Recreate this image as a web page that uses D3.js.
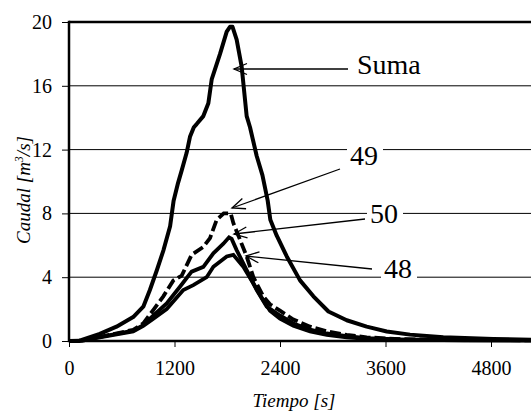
<!DOCTYPE html>
<html><head><meta charset="utf-8">
<script src="https://cdn.jsdelivr.net/npm/d3@7"></script>
</head><body style="margin:0">
<svg id="c" width="531" height="412"></svg>
<script>
const xTicks = [0, 1200, 2400, 3600, 4800];
const yTicks = [0, 4, 8, 12, 16, 20];

const sumaT = [0,120,350,540,730,845,920,1000,1075,1150,1190,1240,1282,1338,1376,1420,1452,1528,1585,1623,1718,1794,1831,1860,1907,1964,2021,2059,2135,2200,2260,2290,2363,2477,2628,2780,2951,3159,3386,3614,3879,4257,4826,5400,6000];
const sumaQ = [0,0.02,0.45,0.9,1.5,2.15,3.2,4.45,5.7,7.2,8.8,9.9,10.7,11.8,12.8,13.4,13.6,14.1,14.9,16.4,18.0,19.4,19.7,19.7,18.9,17.2,14.1,13.4,11.6,10.4,8.8,7.6,6.6,5.3,3.8,2.8,1.85,1.3,0.9,0.6,0.4,0.23,0.13,0.07,0.04];

const s49T = [0,150,350,730,845,960,1073,1187,1282,1395,1528,1604,1680,1760,1840,1869,1945,2021,2097,2210,2286,2400,2552,2742,2932,3159,3386,3765,4500,6000];
const s49Q = [0,0.02,0.25,0.7,1.1,1.95,2.8,3.8,4.1,5.4,5.9,6.45,7.6,8.0,8.0,7.4,6.35,5.3,4.0,2.8,2.3,1.9,1.35,0.9,0.6,0.38,0.23,0.12,0.06,0.03];

const s50T = [0,150,350,730,845,960,1111,1262,1395,1528,1642,1756,1820,1850,1907,2021,2135,2249,2400,2552,2742,2932,3159,3386,3765,4500,6000];
const s50Q = [0,0.02,0.25,0.65,1.0,1.6,2.35,3.4,4.35,4.65,5.5,6.1,6.5,6.4,5.7,4.45,3.2,2.15,1.6,1.1,0.72,0.47,0.3,0.18,0.1,0.05,0.03];

const s48T = [0,150,350,730,845,960,1111,1300,1414,1566,1642,1794,1869,1983,2097,2210,2286,2400,2552,2742,2932,3159,3386,3765,4500,6000];
const s48Q = [0,0.02,0.22,0.6,0.95,1.4,2.0,3.2,3.5,4.0,4.65,5.3,5.4,4.65,3.6,2.55,1.9,1.4,0.95,0.6,0.38,0.23,0.14,0.08,0.04,0.03];

const labels = ["Suma", "49", "50", "48"];

const svg = d3.select("#c");
const W = 531, H = 412;
const x = d3.scaleLinear().domain([0, 6000]).range([69, 596.5]);
const y = d3.scaleLinear().domain([0, 20]).range([341, 22]);
const FF = '"Liberation Serif"';

// gridlines
svg.append("g").selectAll("line").data(yTicks.filter(d => d > 0 && d < 20)).join("line")
  .attr("x1", x(0)).attr("x2", W).attr("y1", d => y(d)).attr("y2", d => y(d))
  .attr("stroke", "#000").attr("stroke-width", 1);

// axes
const yAxis = d3.axisLeft(y).tickValues(yTicks).tickSize(7).tickPadding(10).tickFormat(d3.format("d"));
const gy = svg.append("g").attr("transform", `translate(${x(0)},0)`).call(yAxis);
gy.select(".domain").remove();
gy.style("font-family", FF).style("font-size", "20px");
gy.selectAll("text").style("font-family", FF).style("font-size", "20px").attr("fill", "#000");

const xAxis = d3.axisBottom(x).tickValues(xTicks).tickSize(6).tickPadding(14).tickFormat(d3.format("d"));
const gx = svg.append("g").attr("transform", `translate(0,${y(0)})`).call(xAxis);
gx.select(".domain").remove();
gx.style("font-family", FF).style("font-size", "20px");
gx.selectAll("text").style("font-family", FF).style("font-size", "20px").attr("fill", "#000");

// frame lines
svg.append("line").attr("x1", x(0)).attr("x2", W).attr("y1", y(20)).attr("y2", y(20)).attr("stroke", "#000").attr("stroke-width", 2.5);
svg.append("line").attr("x1", x(0)).attr("x2", W).attr("y1", y(0)).attr("y2", y(0)).attr("stroke", "#000").attr("stroke-width", 2.5);
svg.append("line").attr("x1", x(0)).attr("x2", x(0)).attr("y1", y(20) - 1.25).attr("y2", y(0) + 1.25).attr("stroke", "#000").attr("stroke-width", 2.5);

// series
const line = d3.line().x(d => x(d[0])).y(d => y(d[1]));
const zip = (T, Q) => T.map((t, i) => [t, Q[i]]);
const plot = svg.append("g");
plot.append("path").datum(zip(s48T, s48Q)).attr("d", line).attr("fill", "none").attr("stroke", "#000").attr("stroke-width", 3.8).attr("stroke-linejoin", "miter");
plot.append("path").datum(zip(s50T, s50Q)).attr("d", line).attr("fill", "none").attr("stroke", "#000").attr("stroke-width", 3.8).attr("stroke-linejoin", "miter");
plot.append("path").datum(zip(s49T, s49Q)).attr("d", line).attr("fill", "none").attr("stroke", "#000").attr("stroke-width", 3.8).attr("stroke-dasharray", "11,4");
plot.append("path").datum(zip(sumaT, sumaQ)).attr("d", line).attr("fill", "none").attr("stroke", "#000").attr("stroke-width", 4).attr("stroke-linejoin", "round");

// arrow marker
const defs = svg.append("defs");
defs.append("marker").attr("id", "ah").attr("markerUnits", "userSpaceOnUse")
  .attr("viewBox", "-15 -8 17 16").attr("refX", 0).attr("refY", 0)
  .attr("markerWidth", 17).attr("markerHeight", 16).attr("orient", "auto")
  .append("path").attr("d", "M-13,-5.5L0,0L-13,5.5").attr("fill", "none").attr("stroke", "#000").attr("stroke-width", 1.3);

// annotations: text position, white gap width, arrow (from, to)
const annText = [[357, 74], [350, 165], [370, 223], [384, 278]];
const annGap = [0, 34, 34, 34];
const annArrow = [[348, 69, 234, 69], [340, 169, 232, 208], [365, 219, 234, 234], [372, 269, 246, 256]];

const ann = svg.append("g");
labels.forEach((lab, i) => {
  if (annGap[i] > 0) {
    ann.append("rect").attr("x", annText[i][0] - 3).attr("y", annText[i][1] - 20).attr("width", annGap[i] + 2).attr("height", 20).attr("fill", "#fff");
  }
  ann.append("text").attr("x", annText[i][0]).attr("y", annText[i][1])
    .style("font-family", FF).style("font-size", "28px").attr("fill", "#000").text(lab);
  const a = annArrow[i];
  ann.append("line").attr("x1", a[0]).attr("y1", a[1]).attr("x2", a[2]).attr("y2", a[3])
    .attr("stroke", "#000").attr("stroke-width", 1.3).attr("marker-end", "url(#ah)");
});

// axis titles
svg.append("text").attr("x", 294).attr("y", 407).attr("text-anchor", "middle")
  .style("font-family", FF).style("font-style", "italic").style("font-size", "19px").text("Tiempo [s]");
const yl = svg.append("text").attr("transform", "translate(30,190) rotate(-90)").attr("text-anchor", "middle")
  .style("font-family", FF).style("font-style", "italic").style("font-size", "19px");
yl.append("tspan").text("Caudal [m");
yl.append("tspan").style("font-size", "12px").attr("dy", -7).text("3");
yl.append("tspan").attr("dy", 7).text("/s]");
</script>
</body></html>
